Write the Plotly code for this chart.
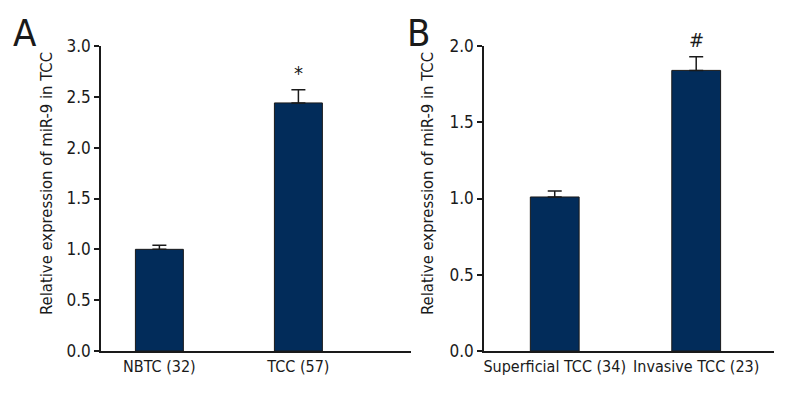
import plotly.graph_objects as go
from plotly.subplots import make_subplots

# panel A
groups_a = ['NBTC (32)', 'TCC (57)']
means_a = [1.00, 2.44]
errs_a = [0.04, 0.13]
marks_a = ['', '*']

# panel B
groups_b = ['Superficial TCC (34)', 'Invasive TCC (23)']
means_b = [1.01, 1.84]
errs_b = [0.04, 0.09]
marks_b = ['', '#']

y_title = 'Relative expression of miR-9 in TCC'
bar_color = '#022c5a'
ink = '#1a1a1a'
font_name = 'DejaVu Sans Condensed'

fig = make_subplots(rows=1, cols=2)

for col, (cats, vals, errs) in enumerate([(groups_a, means_a, errs_a), (groups_b, means_b, errs_b)], start=1):
    fig.add_trace(go.Bar(
        x=cats, y=vals, width=0.345,
        marker=dict(color=bar_color, line=dict(color=ink, width=1)),
        error_y=dict(type='data', array=errs, arrayminus=[0] * len(errs), symmetric=False,
                     color=ink, thickness=1.5, width=7),
        showlegend=False,
    ), row=1, col=col)

# significance marks above the error bars
for xref, yref, cats, vals, errs, marks in [('x', 'y', groups_a, means_a, errs_a, marks_a),
                                             ('x2', 'y2', groups_b, means_b, errs_b, marks_b)]:
    for c, v, e, m in zip(cats, vals, errs, marks):
        if m:
            fig.add_annotation(x=c, y=v + e, xref=xref, yref=yref, text=m, showarrow=False,
                               yanchor='bottom', yshift=3, font=dict(size=20, color=ink))

axis_common = dict(showline=True, linecolor=ink, linewidth=1.5, showgrid=False,
                   zeroline=False, automargin=False, tickangle=0)

fig.update_xaxes(**axis_common, ticks='', tickfont=dict(size=16, color=ink))
fig.update_yaxes(**axis_common, ticks='outside', ticklen=5, tickwidth=1.5, tickcolor=ink,
                 tickformat='.1f', dtick=0.5, tickfont=dict(size=17, color=ink))

fig.update_layout(
    width=800, height=400,
    margin=dict(l=0, r=0, t=0, b=0),
    paper_bgcolor='white', plot_bgcolor='white',
    font=dict(family=font_name, color=ink),
    xaxis=dict(domain=[93 / 800, 403 / 800], range=[-0.42, 1.81]),
    xaxis2=dict(domain=[476 / 800, 766 / 800], range=[-0.50, 1.55]),
    yaxis=dict(domain=[1 - 343 / 400, 1 - 38 / 400], range=[0, 3.0]),
    yaxis2=dict(domain=[1 - 343 / 400, 1 - 38 / 400], range=[0, 2.0]),
)

# y titles, sitting a little above the plot centre like the original
for xp in [39, 420]:
    fig.add_annotation(x=xp / 800, y=1 - 176 / 400, xref='paper', yref='paper', text=y_title,
                       showarrow=False, textangle=-90, xanchor='center', yanchor='middle',
                       font=dict(size=16.5, color=ink))

# panel letters
fig.add_annotation(x=3 / 800, y=1 - 25 / 400, xref='paper', yref='paper', text='A', showarrow=False,
                   xanchor='left', yanchor='middle', font=dict(size=38, color=ink))
fig.add_annotation(x=397 / 800, y=1 - 25 / 400, xref='paper', yref='paper', text='B', showarrow=False,
                   xanchor='left', yanchor='middle', font=dict(size=38, color=ink))

fig.write_html("out.html")
